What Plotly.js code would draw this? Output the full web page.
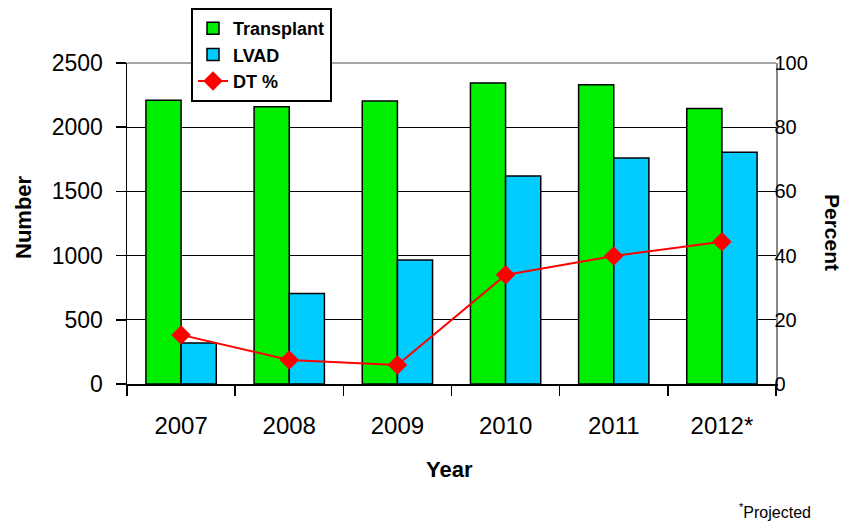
<!DOCTYPE html>
<html>
<head>
<meta charset="utf-8">
<script src="https://cdn.plot.ly/plotly-3.0.1.min.js"></script>
<style>html,body{margin:0;padding:0;background:#fff;}#chart{width:845px;height:522px;}</style>
</head>
<body>
<div id="chart"></div>
<script>
const years = ["2007", "2008", "2009", "2010", "2011", "2012*"];
const transplant = [2210, 2160, 2205, 2345, 2330, 2145];
const lvad = [320, 705, 965, 1620, 1760, 1805];
const dtPercent = [15.3, 7.5, 5.9, 34, 39.9, 44.3];
const leftTicks = [0, 500, 1000, 1500, 2000, 2500];
const rightTicks = [0, 20, 40, 60, 80, 100];

const FONT = "Liberation Sans, Arial, sans-serif";

const traces = [
  {
    type: "bar", name: "Transplant", x: years, y: transplant,
    marker: {color: "#00EE00", line: {color: "#000", width: 1.5}}
  },
  {
    type: "bar", name: "LVAD", x: years, y: lvad,
    marker: {color: "#00CCFF", line: {color: "#000", width: 1.5}}
  },
  {
    type: "scatter", mode: "lines+markers", name: "DT %", x: years, y: dtPercent,
    yaxis: "y2",
    line: {color: "#FF0000", width: 2},
    marker: {symbol: "diamond", size: 15, color: "#FF0000"}
  }
];

const layout = {
  width: 845, height: 522,
  margin: {l: 127, r: 69, t: 63, b: 138, autoexpand: false},
  paper_bgcolor: "#fff", plot_bgcolor: "#fff",
  font: {family: FONT, color: "#000"},
  barmode: "group", bargap: 0.35, bargroupgap: 0,
  showlegend: true,
  legend: {
    xref: "container", yref: "container",
    x: 191/845, y: 1 - 8/522, xanchor: "left", yanchor: "top",
    bgcolor: "#fff", bordercolor: "#000", borderwidth: 2,
    font: {family: FONT, size: 18, color: "#000", weight: "bold"},
    tracegroupgap: 0, itemwidth: 30
  },
  xaxis: {
    type: "category",
    showline: true, linecolor: "#000", linewidth: 1.5,
    ticks: "outside", tickson: "boundaries", ticklen: 10, tickcolor: "#000", tickwidth: 1.5,
    tickfont: {family: FONT, size: 24, color: "#000"},
    ticklabelstandoff: 20,
    showgrid: false, zeroline: false, fixedrange: true
  },
  yaxis: {
    range: [0, 2500], tickmode: "array", tickvals: leftTicks,
    showline: true, linecolor: "#000", linewidth: 1.5,
    ticks: "outside", ticklen: 10, tickcolor: "#000", tickwidth: 1.5,
    tickfont: {family: FONT, size: 23, color: "#000"},
    ticklabelstandoff: 8,
    showgrid: true, gridcolor: "#000", gridwidth: 1.2,
    zeroline: false, fixedrange: true
  },
  yaxis2: {
    range: [0, 100], tickmode: "array", tickvals: rightTicks, overlaying: "y", side: "right",
    showline: true, linecolor: "#888", linewidth: 1.5,
    ticks: "", tickfont: {family: FONT, size: 20, color: "#000"},
    ticklabelstandoff: -7,
    showgrid: false, zeroline: false, fixedrange: true
  },
  shapes: [
    {type: "line", xref: "paper", yref: "paper", x0: 0, x1: 1, y0: 1, y1: 1,
     line: {color: "#888", width: 1.5}}
  ],
  annotations: [
    {text: "<b>Number</b>", xref: "paper", yref: "paper", x: (23 - 127) / 649, y: (384 - 217) / 321,
     xanchor: "center", yanchor: "middle",
     textangle: -90, showarrow: false, font: {family: FONT, size: 22, color: "#000"}},
    {text: "<b>Percent</b>", xref: "paper", yref: "paper", x: (832 - 127) / 649, y: (384 - 232) / 321,
     xanchor: "center", yanchor: "middle",
     textangle: 90, showarrow: false, font: {family: FONT, size: 21, color: "#000"}},
    {text: "<b>Year</b>", xref: "paper", yref: "paper", x: (449 - 127) / 649, y: (384 - 469) / 321,
     xanchor: "center", yanchor: "middle",
     showarrow: false, font: {family: FONT, size: 22, color: "#000"}},
    {text: "<sup>*</sup>Projected", xref: "paper", yref: "paper",
     x: (775 - 127) / 649, y: (384 - 511) / 321, xanchor: "center", yanchor: "middle",
     showarrow: false, font: {family: FONT, size: 16, color: "#000"}}
  ]
};

Plotly.newPlot("chart", traces, layout, {displayModeBar: false, staticPlot: true});
</script>
</body>
</html>
